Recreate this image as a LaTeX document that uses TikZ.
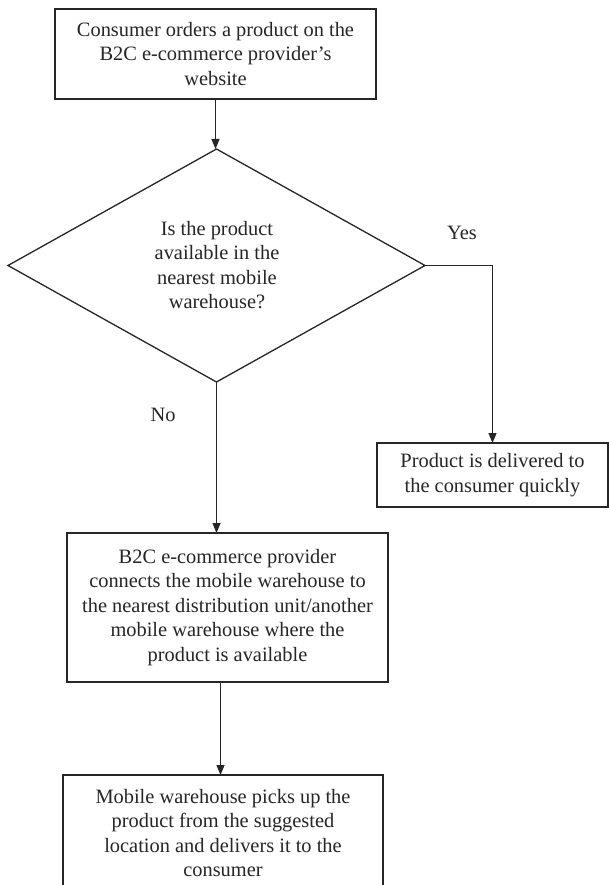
\documentclass[tikz,border=0pt]{standalone}
\usepackage{fontspec}
\setmainfont{Liberation Serif}
\usetikzlibrary{shapes.geometric,arrows.meta}
\definecolor{ink}{HTML}{262626}
\begin{document}
\begin{tikzpicture}[x=1pt,y=-1pt,
  every node/.style={text=ink,font=\fontsize{20.4}{24.5}\selectfont},
  box/.style={draw=ink,line width=1.6pt,rectangle,align=center,inner sep=0pt,outer sep=0pt},
  decision/.style={draw=ink,line width=1.3pt,diamond,aspect=1.8,inner sep=0pt,outer sep=0pt,
     minimum width=417pt,minimum height=233pt},
  arr/.style={draw=ink,line width=1pt,-{Triangle[length=10pt,width=8pt]}},
  lbl/.style={inner sep=0pt}]
\useasboundingbox[fill=white] (0,0) rectangle (609,885);

\node[box,minimum width=321pt,minimum height=90pt] (t) at (215.5,54)
  {Consumer orders a product on the\\B2C e-commerce provider’s\\website};

\node[decision] (d) at (216.5,265.5) {};
\node[align=center,inner sep=0pt] (dq) at (217,265)
  {Is the product\\available in the\\nearest mobile\\warehouse?};

\node[box,minimum width=231pt,minimum height=64pt] (r) at (492.5,475)
  {Product is delivered to\\the consumer quickly};

\node[box,minimum width=321pt,minimum height=149pt] (m) at (227.5,607.5)
  {B2C e-commerce provider\\connects the mobile warehouse to\\the nearest distribution unit/another\\mobile warehouse where the\\product is available};

\node[box,minimum width=320pt,minimum height=116pt] (b) at (223,833)
  {Mobile warehouse picks up the\\product from the suggested\\location and delivers it to the\\consumer};

\node[lbl] (yes) at (462,233) {Yes};
\node[lbl] (no) at (163,415) {No};

\draw[arr] (t.south) -- (t.south |- d.north);
\draw[arr] (d.east) -| (r.north);
\draw[arr] (d.south) -- (d.south |- m.north);
\draw[arr] ([xshift=-7pt]m.south) -- ([xshift=-7pt]m.south |- b.north);
\end{tikzpicture}
\end{document}
